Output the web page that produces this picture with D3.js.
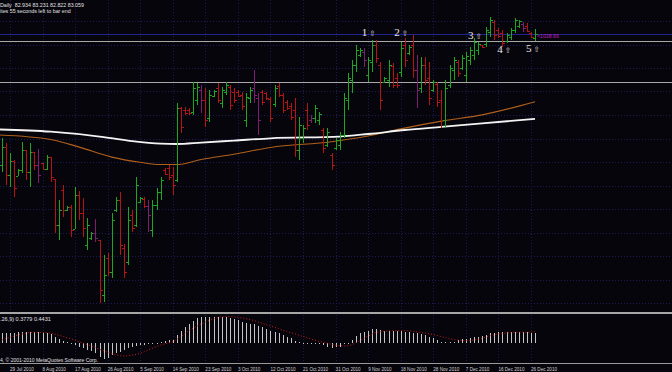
<!DOCTYPE html>
<html lang="en">
<head>
<meta charset="UTF-8">
<style>
  body { margin: 0; background: #07050c; }
</style>
</head>
<body>
<svg width="672" height="372"></svg>
<script src="https://cdn.jsdelivr.net/npm/d3@7"></script>
<script>
// daily bars, 27 Jul 2010 .. 27 Dec 2010 (Sunday bars included)
var opens = [78.49,79.12,78.14,78.63,78.10,78.31,79.01,78.24,78.94,78.49,78.56,78.35,78.77,78.00,76.39,77.61,76.91,77.02,76.25,77.44,
  76.81,75.69,75.93,76.11,75.86,73.94,75.23,74.74,76.91,77.26,75.58,75.09,76.74,76.39,77.19,77.30,77.05,76.21,77.09,77.54,
  78.31,78.38,78.14,77.96,80.48,80.41,80.41,80.34,80.76,81.11,80.76,80.13,80.90,81.18,80.65,81.04,81.21,81.04,81.04,80.94,
  80.06,80.83,81.18,80.83,81.04,81.01,80.80,80.62,81.25,80.94,80.69,80.55,80.41,79.01,79.43,80.41,80.06,80.13,80.06,79.71,
  79.19,78.84,79.08,79.19,79.54,80.76,81.46,81.99,82.34,82.44,81.64,82.09,82.69,81.99,81.39,81.46,81.95,81.53,81.74,82.69,
  82.41,82.69,81.81,81.18,81.99,81.53,81.11,81.32,80.76,80.06,81.29,81.81,82.09,81.88,81.64,82.16,82.34,82.51,82.69,82.72,
  83.14,83.49,83.21,83.11,82.83,82.97,83.21,83.35,83.42,83.35,83.11,82.934];
var highs = [79.43,79.26,78.91,78.66,78.35,79.29,79.01,79.26,78.94,79.05,78.56,78.84,78.77,78.00,77.26,77.79,77.05,77.09,77.72,77.58,
  77.33,76.63,76.14,76.60,75.86,75.34,75.41,76.81,77.37,77.54,75.72,77.02,76.91,78.07,77.37,77.37,77.26,77.26,77.68,78.07,
  78.38,78.49,78.42,80.65,80.52,80.52,80.48,81.39,81.36,81.28,81.18,81.11,81.11,81.36,81.21,81.39,81.28,81.18,81.11,81.04,
  81.01,81.21,81.81,81.01,81.11,81.04,80.87,81.28,81.36,81.01,80.76,80.66,80.83,80.17,79.89,80.66,80.24,80.59,80.34,79.78,
  79.78,78.91,79.43,79.64,81.01,81.70,82.16,82.69,82.58,82.58,82.27,82.86,82.86,82.09,81.56,82.16,82.06,81.70,82.79,82.93,
  82.69,83.04,82.34,82.27,82.27,82.09,81.46,81.39,81.11,81.46,81.99,82.27,82.16,82.34,82.44,82.62,82.93,82.79,82.69,83.32,
  83.67,83.56,83.28,83.21,83.11,83.28,83.63,83.56,83.49,83.46,83.14,83.231];
var lows = [78.24,77.79,77.72,77.37,78.10,78.21,77.96,77.72,78.31,77.86,78.31,78.31,77.89,76.11,75.86,76.67,76.88,75.97,76.25,76.56,
  75.97,75.51,75.86,75.79,73.66,73.69,74.60,74.53,76.84,75.34,74.53,74.99,76.14,76.32,77.16,76.98,76.14,75.97,76.91,77.26,
  78.14,77.96,77.44,77.89,79.61,80.24,80.24,80.24,80.59,80.30,79.82,79.99,80.87,80.65,80.48,80.94,80.41,80.65,80.87,80.41,
  79.82,80.65,80.65,79.54,80.59,80.76,79.99,80.52,80.87,80.30,80.41,80.06,78.77,78.66,79.26,79.71,79.96,79.96,79.89,78.91,
  79.11,78.31,79.01,79.01,79.43,80.41,81.01,81.74,82.27,81.92,81.39,81.74,82.06,80.41,81.36,81.21,81.18,81.18,81.56,81.92,
  82.34,81.53,80.48,81.01,81.29,80.59,81.04,80.52,79.78,79.78,81.18,81.46,81.56,81.81,81.39,81.99,82.16,82.34,82.58,82.62,
  82.97,82.86,82.93,82.62,82.76,82.86,83.11,83.28,83.14,83.14,82.93,82.822];
var closes = [79.12,78.14,78.63,77.68,78.31,79.01,78.24,78.94,78.49,78.14,78.35,78.77,78.07,76.39,76.91,76.91,77.02,76.21,77.44,76.81,
  76.28,76.39,76.11,75.93,74.11,74.64,74.74,76.56,77.26,75.69,74.74,76.56,76.28,77.79,77.33,77.05,76.74,77.09,77.54,77.96,
  78.17,78.07,77.79,80.48,79.81,80.30,80.30,81.18,81.21,80.76,80.06,80.94,81.08,80.76,81.11,81.28,80.59,80.76,80.90,80.55,
  80.87,81.11,80.94,80.06,80.69,80.83,80.13,81.18,80.94,80.41,80.48,80.17,79.01,79.89,79.78,79.89,80.13,80.48,80.27,79.08,
  79.64,78.49,79.36,79.54,80.83,81.53,81.99,82.51,82.51,82.16,82.16,82.69,82.23,80.76,81.53,81.99,81.28,81.28,82.58,82.16,
  82.62,81.81,81.11,81.99,81.46,80.83,81.39,80.69,80.06,81.18,81.88,82.16,81.70,82.23,82.30,82.51,82.79,82.72,82.62,83.21,
  83.56,83.04,83.00,82.76,83.04,83.21,83.56,83.53,83.28,83.18,82.97,83.059];
// u = up bar, d = down bar, p = purple bar
var kinds = ("ududuududp" + "duddududud" + "duupduduud" + "duduudpuuu" + "ddduddduup" +
  "duuduudddd" + "uuppdddudd" + "ddduudpuud" + "uduuuuuuup" + "uudduuddud" +
  "udpudduddu" + "uuduuuuudu" + "uddduuuupd" + "du").split("");

var dateLabels = ["29 Jul 2010","8 Aug 2010","17 Aug 2010","26 Aug 2010","5 Sep 2010","14 Sep 2010","23 Sep 2010",
  "3 Oct 2010","12 Oct 2010","21 Oct 2010","31 Oct 2010","9 Nov 2010","18 Nov 2010","28 Nov 2010","7 Dec 2010",
  "16 Dec 2010","26 Dec 2010"];
var dateIdx = [2,10,18,26,34,42,50,58,66,74,82,90,98,106,114,122,130];

// moving averages read at a few bars
var maSlowIdx = [-1,12,24,31,39,43,49,57,66,83,90,99,108,118,131];
var maSlow = [79.73,79.65,79.48,79.34,79.23,79.22,79.27,79.34,79.42,79.48,79.57,79.71,79.82,79.94,80.10];
var maFastIdx = [-1,12,19,27,34,39,43,49,57,66,81,90,98,108,118,131];
var maFast = [79.54,79.38,79.11,78.76,78.58,78.50,78.50,78.68,78.86,79.10,79.30,79.50,79.75,80.02,80.24,80.70];

// MACD(12,26,9)
var macdHist = [0.37,0.37,0.38,0.40,0.41,0.42,0.43,0.43,0.43,0.41,0.40,0.37,0.35,0.25,0.15,0.10,0.04,0.00,-0.06,-0.12,
  -0.19,-0.25,-0.27,-0.37,-0.49,-0.59,-0.56,-0.43,-0.37,-0.32,-0.25,-0.19,-0.14,-0.10,-0.07,-0.05,-0.04,-0.01,0.02,0.06,
  0.09,0.11,0.12,0.31,0.47,0.62,0.72,0.84,0.93,0.96,0.99,0.99,0.99,0.99,0.98,0.96,0.93,0.89,0.86,0.80,
  0.74,0.72,0.70,0.64,0.59,0.53,0.47,0.43,0.37,0.31,0.25,0.19,0.10,0.04,0.02,0.00,0.00,0.00,-0.02,-0.06,
  -0.12,-0.16,-0.15,-0.12,-0.04,0.02,0.12,0.27,0.37,0.41,0.46,0.52,0.52,0.49,0.47,0.46,0.46,0.46,0.44,0.43,
  0.43,0.40,0.37,0.33,0.31,0.25,0.19,0.12,0.06,0.06,0.06,0.06,0.12,0.15,0.15,0.19,0.22,0.22,0.27,0.31,
  0.37,0.37,0.41,0.41,0.41,0.43,0.43,0.43,0.43,0.41,0.37,0.378];
var signalIdx = [0,2,4,6,8,10,12,14,16,18,20,22,24,26,28,30,32,34,36,38,40,42,44,46,48,50,52,54,56,58,60,62,64,66,68,70,
  72,74,76,78,80,82,84,86,88,90,92,94,96,98,100,102,104,106,108,110,112,114,116,118,120,122,124,126,128,130,131];
var signalVals = [0.12,0.22,0.31,0.38,0.41,0.40,0.37,0.30,0.21,0.12,0.00,-0.10,-0.22,-0.33,-0.42,-0.47,-0.44,-0.37,-0.25,-0.12,
  -0.02,0.06,0.25,0.47,0.64,0.79,0.90,0.98,0.99,0.96,0.91,0.84,0.74,0.64,0.54,0.44,0.35,0.25,0.16,0.07,0.00,-0.07,-0.10,
  -0.05,0.10,0.27,0.40,0.44,0.47,0.47,0.46,0.42,0.38,0.32,0.25,0.17,0.12,0.10,0.12,0.19,0.28,0.35,0.38,0.41,0.41,0.41,0.443];

var bidPrice = 83.059;
var levelPrices = [82.81, 81.38];
var gridPrices = [83.525,82.70,81.88,81.06,80.235,79.41,78.59,77.76,76.94,76.12,75.30,74.47,73.65];
var waveLabels = ["1","2","3","4","5"];
var waveAt = [88.4,96.4,114.5,121.7,128.8];
var wavePrice = [82.99,82.99,82.91,82.42,82.44];

var svg = d3.select("svg");
var W = 672;
var sans = "Liberation Sans, Arial, sans-serif";

var x = d3.scaleLinear().domain([0, 131]).range([1.86, 535.03]);
var y = d3.scaleLinear().domain([73.34, 84.26]).range([312, 0]);
var ym = d3.scaleLinear().domain([-0.7, 1.1]).range([362.2, 313.6]);
var px = function(v) { return Math.round(v) + 0.5; };

svg.append("rect").attr("width", W).attr("height", 372).attr("fill", "#07050c");

// grid
var grid = svg.append("g").attr("stroke", "#1b1b55").attr("stroke-dasharray", "1,2");
grid.selectAll(".gv").data(dateIdx).enter().append("line")
    .attr("x1", function(d) { return px(x(d)); }).attr("x2", function(d) { return px(x(d)); })
    .attr("y1", 0).attr("y2", 362);
grid.selectAll(".gh").data(gridPrices).enter().append("line")
    .attr("x1", 0).attr("x2", W)
    .attr("y1", function(d) { return px(y(d)); }).attr("y2", function(d) { return px(y(d)); });

// horizontal levels
svg.append("line").attr("x1", 0).attr("x2", W)
    .attr("y1", px(y(bidPrice))).attr("y2", px(y(bidPrice)))
    .attr("stroke", "#23238f");
svg.selectAll(".lvl").data(levelPrices).enter().append("line")
    .attr("x1", 0).attr("x2", W)
    .attr("y1", function(d) { return px(y(d)); }).attr("y2", function(d) { return px(y(d)); })
    .attr("stroke", "#a8a8a8");

// moving averages
var maLine = d3.line().curve(d3.curveMonotoneX)
    .x(function(d) { return x(d[0]); }).y(function(d) { return y(d[1]); });
svg.append("path").attr("d", maLine(d3.zip(maFastIdx, maFast)))
    .attr("fill", "none").attr("stroke", "#b0601c").attr("stroke-width", 1.1);
svg.append("path").attr("d", maLine(d3.zip(maSlowIdx, maSlow)))
    .attr("fill", "none").attr("stroke", "#f4f4f4").attr("stroke-width", 1.8);

// bars
var colors = { u: "#1fa61f", d: "#b51414", p: "#7d1f6e" };
var bars = svg.append("g").attr("shape-rendering", "crispEdges");
var idx = d3.range(highs.length);
var bar = bars.selectAll(".bar").data(idx).enter().append("g")
    .attr("fill", function(i) { return colors[kinds[i]]; });
bar.append("rect")
    .attr("x", function(i) { return Math.round(x(i)); })
    .attr("width", 1)
    .attr("y", function(i) { return y(highs[i]); })
    .attr("height", function(i) { return Math.max(1, y(lows[i]) - y(highs[i])); });
bar.append("rect")
    .attr("x", function(i) { return Math.round(x(i)) - 2; })
    .attr("width", 2).attr("height", 1)
    .attr("y", function(i) { return Math.round(y(opens[i])); });
bar.append("rect")
    .attr("x", function(i) { return Math.round(x(i)) + 1; })
    .attr("width", 2).attr("height", 1)
    .attr("y", function(i) { return Math.round(y(closes[i])); });

// wave labels
var waves = svg.selectAll(".wave").data(waveLabels).enter().append("g")
    .attr("transform", function(d, i) { return "translate(" + x(waveAt[i]) + "," + y(wavePrice[i]) + ")"; });
waves.append("text").text(function(d) { return d; })
    .style("font-family", "'Liberation Serif', 'DejaVu Serif', serif").style("font-size", "11px")
    .attr("fill", "#e8e8e8");
waves.append("text").text("\u21e7").attr("x", 7.5).attr("y", 0)
    .style("font-family", "'DejaVu Sans'").style("font-size", "7.5px").attr("fill", "#d8d8d8");

svg.append("text").attr("x", x(131) + 2).attr("y", y(bidPrice) + 3.5)
    .style("font-family", sans).style("font-size", "5.2px").attr("fill", "#c020c0").text("<1038.66");

// separator between panels
svg.append("rect").attr("x", 0).attr("y", 312).attr("width", W).attr("height", 2).attr("fill", "#a6a6a6");

// MACD histogram and signal
svg.append("g").attr("shape-rendering", "crispEdges").selectAll("rect").data(idx).enter().append("rect")
    .attr("x", function(i) { return Math.round(x(i)); })
    .attr("width", 1)
    .attr("y", function(i) { return Math.min(ym(macdHist[i]), ym(0)); })
    .attr("height", function(i) { return Math.max(1, Math.abs(ym(macdHist[i]) - ym(0))); })
    .attr("fill", "#c4c4c4");
svg.append("path")
    .attr("d", d3.line().curve(d3.curveMonotoneX)
        .x(function(d) { return x(d[0]); }).y(function(d) { return ym(d[1]); })(d3.zip(signalIdx, signalVals)))
    .attr("fill", "none").attr("stroke", "#c81e1e").attr("stroke-width", 1).attr("stroke-dasharray", "1,2");

// time axis
svg.append("rect").attr("x", 0).attr("y", 363).attr("width", W).attr("height", 1).attr("fill", "#9a9a9a");
svg.selectAll(".tl").data(dateLabels).enter().append("text")
    .attr("x", function(d, i) { return x(dateIdx[i]); })
    .attr("y", 370.5)
    .style("font-family", sans).style("font-size", "4.6px").attr("fill", "#d0d0d0")
    .text(function(d) { return d; });

// texts
var info = [
  { t: "Daily  82.934 83.231 82.822 83.059", y: 7, s: 5.3 },
  { t: "ites 55 seconds left to bar end", y: 13, s: 5.3 },
  { t: ".26,9) 0.3779 0.4431", y: 321, s: 5.5 },
  { t: "4, \u00a9 2001-2010 MetaQuotes Software Corp.", y: 361.5, s: 5 }
];
svg.selectAll(".info").data(info).enter().append("text")
    .attr("x", 0).attr("y", function(d) { return d.y; })
    .attr("xml:space", "preserve")
    .style("font-family", sans).style("font-size", function(d) { return d.s + "px"; })
    .attr("fill", "#e0e0e0")
    .text(function(d) { return d.t; });
</script>
</body>
</html>
